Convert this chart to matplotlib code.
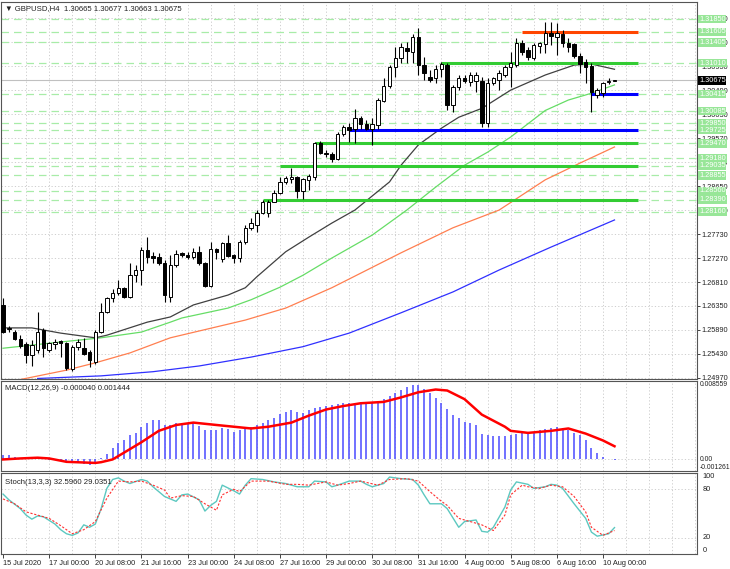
import numpy as np
import matplotlib.pyplot as plt
from matplotlib.patches import Rectangle
import matplotlib.transforms as mtransforms

plt.rcParams["font.family"] = ["Liberation Sans", "DejaVu Sans"]

# ============================================================
# 数据：GBPUSD H4 蜡烛 (bar 0 = 15 Jul 2020)
# ============================================================
opens = [
    1.2637, 1.2590, 1.2585, 1.2572, 1.2562, 1.2541, 1.2551, 1.2589, 1.2551, 1.2562,
    1.2567, 1.2564, 1.2514, 1.2556, 1.2555, 1.2547, 1.2528, 1.2585, 1.2624, 1.2650,
    1.2660, 1.2670, 1.2652, 1.2694, 1.2704, 1.2742, 1.2730, 1.2729, 1.2717, 1.2652,
    1.2714, 1.2736, 1.2733, 1.2729, 1.2739, 1.2717, 1.2673, 1.2744, 1.2725, 1.2756,
    1.2733, 1.2727, 1.2758, 1.2785, 1.2790, 1.2813, 1.2813, 1.2834, 1.2852, 1.2873,
    1.2879, 1.2882, 1.2855, 1.2877, 1.2882, 1.2947, 1.2929, 1.2926, 1.2917, 1.2965,
    1.2978, 1.2974, 1.2995, 1.2984, 1.2974, 1.2982, 1.3028, 1.3057, 1.3093, 1.3110,
    1.3130, 1.3122, 1.3151, 1.3097, 1.3074, 1.3072, 1.3089, 1.3097, 1.3020, 1.3055,
    1.3072, 1.3064, 1.3066, 1.3066, 1.2986, 1.3063, 1.3068, 1.3078, 1.3093, 1.3097,
    1.3139, 1.3126, 1.3110, 1.3133, 1.3137, 1.3158, 1.3151, 1.3156, 1.3139, 1.3137,
    1.3114, 1.3103, 1.3095, 1.3039, 1.3043, 1.3064, 1.30665,
]
highs = [
    1.2650, 1.2597, 1.2589, 1.2580, 1.2566, 1.2570, 1.2624, 1.2592, 1.2566, 1.2572,
    1.2570, 1.2566, 1.2560, 1.2572, 1.2574, 1.2551, 1.2589, 1.2641, 1.2652, 1.2668,
    1.2685, 1.2671, 1.2717, 1.2714, 1.2748, 1.2767, 1.2738, 1.2737, 1.2723, 1.2733,
    1.2742, 1.2738, 1.2738, 1.2746, 1.2751, 1.2719, 1.2758, 1.2746, 1.2758, 1.2771,
    1.2735, 1.2762, 1.2790, 1.2804, 1.2819, 1.2838, 1.2838, 1.2857, 1.2882, 1.2884,
    1.2899, 1.2884, 1.2880, 1.2888, 1.2949, 1.2951, 1.2934, 1.2930, 1.2968, 1.2982,
    1.2986, 1.3013, 1.3000, 1.2992, 1.2995, 1.3034, 1.3072, 1.3097, 1.3132, 1.3139,
    1.3141, 1.3156, 1.3168, 1.3112, 1.3087, 1.3097, 1.3103, 1.3101, 1.3059, 1.3078,
    1.3078, 1.3083, 1.3083, 1.3074, 1.3072, 1.3074, 1.3087, 1.3097, 1.3122, 1.3149,
    1.3145, 1.3132, 1.3139, 1.3141, 1.3179, 1.3179, 1.3177, 1.3164, 1.3149, 1.3139,
    1.3120, 1.3108, 1.3101, 1.3053, 1.3064, 1.3072, 1.30677,
]
lows = [
    1.2583, 1.2585, 1.2570, 1.2555, 1.2526, 1.2520, 1.2545, 1.2537, 1.2547, 1.2553,
    1.2537, 1.2512, 1.2510, 1.2551, 1.2541, 1.2518, 1.2524, 1.2583, 1.2622, 1.2643,
    1.2656, 1.2650, 1.2650, 1.2681, 1.2675, 1.2717, 1.2717, 1.2714, 1.2643, 1.2643,
    1.2709, 1.2729, 1.2725, 1.2725, 1.2714, 1.2671, 1.2671, 1.2725, 1.2719, 1.2729,
    1.2717, 1.2719, 1.2754, 1.2781, 1.2777, 1.2811, 1.2806, 1.2834, 1.2850, 1.2869,
    1.2871, 1.2842, 1.2840, 1.2857, 1.2877, 1.2926, 1.2920, 1.2911, 1.2915, 1.2961,
    1.2949, 1.2947, 1.2974, 1.2972, 1.2944, 1.2974, 1.3026, 1.3053, 1.3074, 1.3101,
    1.3101, 1.3101, 1.3078, 1.3068, 1.3064, 1.3062, 1.3074, 1.3011, 1.3007, 1.3049,
    1.3062, 1.3057, 1.3045, 1.2978, 1.2978, 1.3059, 1.3049, 1.3074, 1.3055, 1.3093,
    1.3116, 1.3107, 1.3107, 1.3120, 1.3120, 1.3135, 1.3116, 1.3131, 1.3122, 1.3110,
    1.3082, 1.3063, 1.3007, 1.3034, 1.3036, 1.3060, 1.30663,
]
closes = [
    1.2585, 1.2593, 1.2572, 1.2558, 1.2541, 1.2560, 1.2585, 1.2555, 1.2564, 1.2566,
    1.2564, 1.2516, 1.2556, 1.2566, 1.2543, 1.2532, 1.2585, 1.2624, 1.2650, 1.2660,
    1.2670, 1.2652, 1.2694, 1.2704, 1.2742, 1.2729, 1.2728, 1.2717, 1.2656, 1.2714,
    1.2735, 1.2733, 1.2729, 1.2739, 1.2717, 1.2673, 1.2744, 1.2739, 1.2756, 1.2731,
    1.2727, 1.2758, 1.2785, 1.2794, 1.2813, 1.2834, 1.2834, 1.2852, 1.2873, 1.2880,
    1.2882, 1.2855, 1.2879, 1.2884, 1.2947, 1.2928, 1.2926, 1.2917, 1.2965, 1.2978,
    1.2972, 1.2995, 1.2984, 1.2974, 1.2984, 1.3030, 1.3057, 1.3093, 1.3110, 1.3132,
    1.3124, 1.3151, 1.3097, 1.3082, 1.3068, 1.3089, 1.3099, 1.3020, 1.3055, 1.3072,
    1.3066, 1.3078, 1.3078, 1.2986, 1.3063, 1.3072, 1.3082, 1.3093, 1.3101, 1.3139,
    1.3122, 1.3112, 1.3135, 1.3139, 1.3158, 1.3153, 1.3158, 1.3139, 1.3131, 1.3114,
    1.3099, 1.3093, 1.3045, 1.3049, 1.3063, 1.3066, 1.30675,
]

# 均线（读图取点：bar 序号, 价格）
ma_black_bar = [0, 5, 10, 16, 18, 25, 29, 33, 39, 42, 44, 49, 53, 57, 61, 67, 69, 72, 76, 79, 83, 88, 94, 99, 102, 106]
ma_black = [1.2593, 1.2593, 1.2583, 1.2574, 1.2579, 1.2604, 1.2614, 1.2637, 1.2656, 1.2670, 1.2691, 1.2739, 1.2767,
            1.2794, 1.2819, 1.2873, 1.2905, 1.2944, 1.2976, 1.2997, 1.3014, 1.3049, 1.3078, 1.3097, 1.3099, 1.3089]
ma_green_bar = [0, 10, 17, 24, 29, 31, 39, 43, 48, 52, 57, 64, 70, 75, 80, 84, 88, 94, 98, 102, 106]
ma_green = [1.2554, 1.2566, 1.2574, 1.2585, 1.2604, 1.2612, 1.2631, 1.2647, 1.2671, 1.2694, 1.2727,
            1.2771, 1.2819, 1.2863, 1.2905, 1.2930, 1.2959, 1.3010, 1.3030, 1.3043, 1.3059]
ma_orange_bar = [3, 11, 16, 22, 29, 42, 49, 57, 69, 78, 86, 94, 100, 106]
ma_orange = [1.2494, 1.2512, 1.2526, 1.2545, 1.2574, 1.2608, 1.2631, 1.2670, 1.2737, 1.2785, 1.2819,
             1.2877, 1.2909, 1.2940]
ma_blue_bar = [6, 17, 26, 34, 43, 52, 60, 69, 78, 86, 95, 106]
ma_blue = [1.2496, 1.2501, 1.2509, 1.2520, 1.2537, 1.2557, 1.2583, 1.2622, 1.2662, 1.2704, 1.2748, 1.2800]

# 水平位
level_prices = [1.31850, 1.31605, 1.31405, 1.31010, 1.30415, 1.30085, 1.29850, 1.29725,
                1.29470, 1.29180, 1.29035, 1.28855, 1.28560, 1.28390, 1.28160]
sr_prices = [1.31605, 1.31010, 1.30415, 1.29725, 1.29470, 1.29035, 1.28390]
sr_start = [90, 76, 102, 60, 54, 48, 45]
sr_colors = ["#ff4500", "#33cc33", "#0000ff", "#0000ff", "#33cc33", "#33cc33", "#33cc33"]
last_price = 1.30675

# MACD 主线（直方）与信号线
macd_main = [
    0.00045, 0.00045, 0.00026, 0.00019, 0.00019, 0.00015, 0.00011, 0.00004, -0.00004, -0.00011,
    -0.00019, -0.00030, -0.00038, -0.00041, -0.00049, -0.00056, -0.00049, 0.00019, 0.00064, 0.00124,
    0.00177, 0.00207, 0.00263, 0.00290, 0.00357, 0.00402, 0.00425, 0.00425, 0.00376, 0.00376,
    0.00395, 0.00395, 0.00402, 0.00395, 0.00365, 0.00320, 0.00320, 0.00320, 0.00338, 0.00327,
    0.00301, 0.00320, 0.00338, 0.00357, 0.00376, 0.00402, 0.00425, 0.00451, 0.00500, 0.00515,
    0.00538, 0.00515, 0.00508, 0.00538, 0.00564, 0.00572, 0.00583, 0.00590, 0.00602, 0.00613,
    0.00613, 0.00620, 0.00628, 0.00628, 0.00620, 0.00628, 0.00658, 0.00688, 0.00726, 0.00763,
    0.00790, 0.00808, 0.00816, 0.00771, 0.00726, 0.00666, 0.00613, 0.00545, 0.00489, 0.00451,
    0.00414, 0.00395, 0.00376, 0.00274, 0.00263, 0.00252, 0.00252, 0.00252, 0.00263, 0.00274,
    0.00301, 0.00301, 0.00301, 0.00320, 0.00327, 0.00338, 0.00350, 0.00338, 0.00320, 0.00290,
    0.00263, 0.00207, 0.00124, 0.00068, 0.00026, 0.00008, -0.00004,
]
macd_sig_bar = [0, 3, 6, 8, 11, 16, 17, 19, 21, 24, 27, 30, 33, 37, 40, 43, 46, 50, 53, 56, 59,
                62, 66, 69, 72, 75, 77, 80, 83, 87, 88, 91, 95, 98, 101, 104, 106]
macd_sig = [0.0, 0.00011, 0.00019, 0.00011, -0.00026, -0.00038, -0.00030, 0.0, 0.00075, 0.00188,
            0.00312, 0.00376, 0.00402, 0.00376, 0.00357, 0.00338, 0.00357, 0.00402, 0.00478, 0.00545,
            0.00583, 0.00613, 0.00628, 0.00677, 0.00733, 0.00763, 0.00752, 0.00658, 0.00489, 0.00357,
            0.00312, 0.00290, 0.00312, 0.00338, 0.00282, 0.00207, 0.00144]

# Stochastic %K / %D
stoch_k_bar = [0, 1, 3, 4, 5, 6, 7, 9, 10, 11, 12, 13, 14, 15, 16, 17, 18, 19, 20, 21, 22, 24, 25, 26,
               28, 30, 31, 32, 34, 35, 36, 37, 38, 40, 41, 42, 43, 45, 47, 49, 51, 53, 54, 56, 57, 58,
               60, 62, 63, 64, 66, 67, 69, 71, 72, 73, 74, 76, 77, 79, 80, 82, 83, 84, 85, 87, 88, 89,
               91, 92, 94, 95, 96, 97, 99, 101, 102, 103, 105, 106]
stoch_k = [74, 67, 56, 48, 43, 47, 46, 37, 30, 25, 23, 26, 36, 33, 37, 56, 81, 92, 94, 90, 87, 92, 90, 83,
           71, 65, 73, 74, 67, 53, 60, 65, 85, 78, 74, 85, 93, 92, 89, 87, 83, 83, 90, 89, 83, 85,
           90, 90, 86, 83, 87, 95, 93, 92, 85, 73, 62, 62, 56, 33, 40, 42, 28, 27, 33, 58, 79, 89,
           86, 81, 83, 86, 85, 81, 62, 44, 27, 22, 25, 32.6]
stoch_d_bar = [0, 2, 4, 7, 8, 10, 12, 14, 16, 18, 20, 22, 24, 26, 28, 29, 31, 33, 35, 37, 38, 40, 41,
               43, 46, 49, 51, 53, 56, 58, 60, 62, 65, 67, 70, 72, 74, 76, 77, 79, 81, 83, 85, 87, 88,
               90, 91, 93, 95, 97, 99, 101, 102, 104, 106]
stoch_d = [68, 62, 52, 46, 44, 35, 25, 30, 40, 69, 90, 89, 90, 85, 79, 69, 72, 71, 62, 54, 73, 80, 77,
           90, 90, 86, 86, 85, 89, 85, 87, 90, 85, 92, 93, 90, 77, 65, 60, 44, 40, 36, 29, 48, 73,
           85, 83, 81, 85, 83, 71, 52, 33, 23, 29]

date_bars = [0, 8, 16, 24, 32, 40, 48, 56, 64, 72, 80, 88, 96, 104]
date_labels = ["15 Jul 2020", "17 Jul 00:00", "20 Jul 08:00", "21 Jul 16:00", "23 Jul 00:00",
               "24 Jul 08:00", "27 Jul 16:00", "29 Jul 00:00", "30 Jul 08:00", "31 Jul 16:00",
               "4 Aug 00:00", "5 Aug 08:00", "6 Aug 16:00", "10 Aug 00:00"]

price_ticks = [1.24970, 1.25430, 1.25890, 1.26350, 1.26810, 1.27270, 1.27730, 1.28190,
               1.28650, 1.29110, 1.29570, 1.30030, 1.30490, 1.30950, 1.31410, 1.31870]

# ============================================================
# 画图
# ============================================================
W, H = 730, 569
fig = plt.figure(figsize=(W / 100, H / 100), dpi=100)


def px_axes(x0, y0, x1, y1):
    return fig.add_axes([x0 / W, 1 - y1 / H, (x1 - x0) / W, (y1 - y0) / H])


ax = px_axes(1, 2, 697, 379)
ax2 = px_axes(1, 381, 697, 471)
ax3 = px_axes(1, 473, 697, 554)

XLIM = (-0.35, 120.3)
grid_kw = dict(color="#c8c8c8", lw=0.6, ls=(0, (1.5, 2.5)), zorder=0)
small = 5.3
n = len(closes)
idx = np.arange(n)

for a in (ax, ax2, ax3):
    a.set_xlim(*XLIM)
    for sp in a.spines.values():
        sp.set_color("#555555")
        sp.set_linewidth(0.8)
    for b in range(4, 121, 4):
        a.axvline(b, **grid_kw)
    a.tick_params(axis="x", bottom=False, labelbottom=False)
    a.yaxis.tick_right()
    a.tick_params(axis="y", length=2, width=0.6, pad=1, labelsize=small, colors="#222222")

# ---- 主图 ----
ax.set_ylim(1.2495, 1.3218)
ax.set_yticks(price_ticks)
ax.set_yticklabels([f"{p:.5f}" for p in price_ticks])
for p in price_ticks:
    ax.axhline(p, **grid_kw)

for p in level_prices:
    ax.axhline(p, color="#a8eca8", lw=0.9, ls=(0, (6, 4)), zorder=1)
ax.axhline(last_price, color="#c0c0c0", lw=0.8, zorder=1)

for p, s, c in zip(sr_prices, sr_start, sr_colors):
    ax.plot([s, 110], [p, p], color=c, lw=2.2, solid_capstyle="butt", zorder=3)

ax.plot(ma_blue_bar, ma_blue, color="#3030ff", lw=0.9, zorder=2)
ax.plot(ma_orange_bar, ma_orange, color="#ff7f50", lw=0.9, zorder=2)
ax.plot(ma_green_bar, ma_green, color="#66dd66", lw=0.9, zorder=2)
ax.plot(ma_black_bar, ma_black, color="#404040", lw=0.9, zorder=2)

ax.vlines(idx, lows, highs, color="black", lw=0.8, zorder=4)
for i in range(n):
    o, c = opens[i], closes[i]
    fc = "white" if c >= o else "black"
    ax.add_patch(Rectangle((i - 0.3, min(o, c)), 0.6, abs(c - o), facecolor=fc,
                           edgecolor="black", lw=0.7, zorder=5))

ax.text(0.006, 0.993, "▼ GBPUSD,H4  1.30665 1.30677 1.30663 1.30675", transform=ax.transAxes,
        va="top", ha="left", fontsize=5.6, color="#222222")

trans = mtransforms.blended_transform_factory(ax.transAxes, ax.transData)
for p in level_prices:
    ax.text(1.003, p, f"{p:.5f}", transform=trans, ha="left", va="center", fontsize=small,
            color="white", clip_on=False, zorder=20,
            bbox=dict(boxstyle="square,pad=0.1", fc="#98e698", ec="none"))
ax.text(1.003, last_price, f"{last_price:.5f}", transform=trans, ha="left", va="center",
        fontsize=small, color="white", clip_on=False, zorder=21,
        bbox=dict(boxstyle="square,pad=0.1", fc="black", ec="none"))

# ---- MACD ----
ax2.set_ylim(-0.001261, 0.008559)
ax2.set_yticks([])
ax2.axhline(0, **grid_kw)
ax2.vlines(idx, 0, macd_main, color="#4a4aff", lw=1.1, zorder=2)
ax2.plot(macd_sig_bar, macd_sig, color="#ff0000", lw=1.8, zorder=3)
ax2.text(0.006, 0.95, "MACD(12,26,9) -0.000040 0.001444", transform=ax2.transAxes,
         va="top", ha="left", fontsize=5.6, color="#222222")
t2 = mtransforms.blended_transform_factory(ax2.transAxes, ax2.transData)
for v, lab, va in [(0.008559, "0.008559", "top"), (0.0, "0.00", "center"),
                   (-0.001261, "-0.001261", "bottom")]:
    ax2.text(1.004, v, lab, transform=t2, ha="left", va=va, fontsize=4.9, color="#222222",
             clip_on=False)

# ---- Stochastic ----
ax3.set_ylim(0, 100)
ax3.set_yticks([])
for lv in (20, 80):
    ax3.axhline(lv, **grid_kw)
ax3.plot(stoch_k_bar, stoch_k, color="#5cc8c0", lw=1.0, zorder=3)
ax3.plot(stoch_d_bar, stoch_d, color="#ff3030", lw=0.8, ls=(0, (2, 1.5)), zorder=3)
ax3.text(0.006, 0.93, "Stoch(13,3,3) 32.5960 29.0351", transform=ax3.transAxes,
         va="top", ha="left", fontsize=5.6, color="#222222")
t3 = mtransforms.blended_transform_factory(ax3.transAxes, ax3.transData)
for v, lab, va in [(100, "100", "top"), (80, "80", "center"), (20, "20", "center"), (0, "0", "bottom")]:
    ax3.text(1.008, v, lab, transform=t3, ha="left", va=va, fontsize=small, color="#222222",
             clip_on=False)

ax3.set_xticks(date_bars)
ax3.set_xticklabels(date_labels)
ax3.tick_params(axis="x", bottom=True, labelbottom=True, length=3, width=0.6, pad=1.5,
                labelsize=small, colors="#222222")
for lbl in ax3.get_xticklabels():
    lbl.set_ha("left")

fig.savefig("out.png", dpi=100)
